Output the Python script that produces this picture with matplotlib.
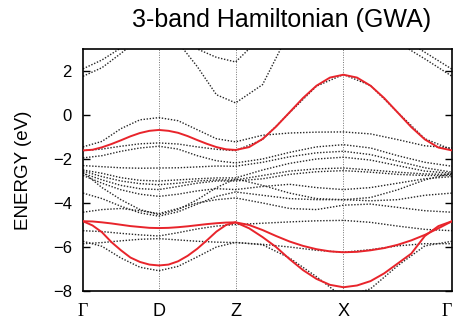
import numpy as np
import matplotlib
matplotlib.use("Agg")
import matplotlib.pyplot as plt

# high-symmetry points along the path
kpt_labels = ["Γ", "D", "Z", "X", "Γ"]
kpt_pos = [0.0, 1.0, 2.01, 3.43, 4.86]

# 3-band model (red), sampled at eighths of each segment
tb_1 = [-1.61, -1.58, -1.47, -1.32, -1.15, -0.97, -0.82, -0.72, -0.68,
        -0.72, -0.81, -0.96, -1.14, -1.31, -1.46, -1.56, -1.59,
        -1.46, -1.09, -0.53, 0.12, 0.77, 1.33, 1.70, 1.83,
        1.70, 1.33, 0.77, 0.11, -0.55, -1.11, -1.48, -1.61]
tb_2 = [-4.83, -4.84, -4.88, -4.93, -4.99, -5.05, -5.09, -5.13, -5.14,
        -5.13, -5.10, -5.06, -5.01, -4.96, -4.92, -4.89, -4.88,
        -5.00, -5.23, -5.50, -5.75, -5.95, -6.10, -6.20, -6.24,
        -6.22, -6.15, -6.05, -5.90, -5.70, -5.45, -5.15, -4.83]
tb_3 = [-4.83, -5.02, -5.33, -5.78, -6.15, -6.48, -6.68, -6.80, -6.84,
        -6.80, -6.65, -6.40, -6.08, -5.70, -5.30, -5.00, -4.88,
        -5.15, -5.55, -6.00, -6.55, -7.05, -7.45, -7.72, -7.83,
        -7.75, -7.55, -7.20, -6.75, -6.30, -5.50, -5.05, -4.83]

# DFT bands (dotted), sampled at quarters of each segment
d01 = [2.10, 2.50, 3.05, 3.70, 4.50, 4.50, 4.50, 4.50, 4.50, 4.50, 4.50, 4.50, 4.50, 4.50, 3.60, 2.85, 2.08]
d02 = [1.76, 2.15, 2.80, 3.50, 4.50, 4.50, 4.50, 4.50, 4.50, 4.50, 4.50, 4.50, 4.50, 4.50, 3.30, 2.55, 1.76]
d03 = [4.50, 4.50, 4.50, 4.50, 4.50, 4.50, 3.00, 2.62, 2.41, 3.60, 4.50, 4.50, 4.50, 4.50, 4.50, 4.50, 4.50]
d04 = [4.50, 4.50, 4.50, 4.50, 4.50, 3.30, 2.20, 0.92, 0.55, 1.38, 3.80, 4.50, 4.50, 4.50, 4.50, 4.50, 4.50]
d05 = [-1.45, -1.20, -0.62, -0.22, -0.12, -0.26, -0.67, -1.08, -1.22, -0.92, -0.82, -0.78, -0.77, -0.86, -1.12, -1.40, -1.50]
d06 = [-1.62, -1.55, -1.42, -1.31, -1.27, -1.32, -1.45, -1.56, -1.62, -1.12, 0.10, 1.31, 1.84, 1.34, 0.12, -1.08, -1.58]
d07 = [-1.95, -1.85, -1.65, -1.50, -1.42, -1.55, -1.85, -2.08, -2.18, -2.00, -1.70, -1.45, -1.35, -1.50, -1.85, -2.15, -2.33]
d08 = [-2.30, -2.35, -2.40, -2.42, -2.41, -2.40, -2.36, -2.32, -2.33, -2.15, -1.90, -1.72, -1.65, -1.80, -2.10, -2.40, -2.60]
d09 = [-2.50, -2.65, -2.85, -2.97, -3.00, -2.95, -2.90, -2.86, -2.86, -2.50, -2.20, -2.00, -1.92, -2.05, -2.30, -2.55, -2.65]
d10 = [-2.55, -2.80, -3.00, -3.12, -3.17, -3.10, -3.00, -2.95, -2.95, -2.75, -2.55, -2.45, -2.41, -2.50, -2.60, -2.68, -2.70]
d11 = [-2.65, -2.95, -3.20, -3.35, -3.39, -3.25, -3.10, -3.00, -3.00, -2.90, -2.70, -2.58, -2.53, -2.60, -2.70, -2.75, -2.75]
d12 = [-2.75, -3.10, -3.40, -3.60, -3.70, -3.60, -3.45, -3.35, -3.39, -3.25, -3.15, -3.30, -3.39, -3.30, -3.10, -2.90, -2.80]
d13 = [-2.60, -3.30, -3.85, -4.30, -4.53, -4.30, -3.85, -3.30, -2.90, -3.20, -3.55, -3.80, -3.85, -3.75, -3.40, -2.95, -2.65]
d14 = [-3.55, -3.80, -4.15, -4.45, -4.60, -4.40, -4.05, -3.70, -3.50, -3.65, -3.80, -3.85, -3.85, -3.90, -3.85, -3.65, -3.55]
d15 = [-4.42, -4.30, -4.25, -4.35, -4.48, -4.25, -4.00, -3.85, -3.77, -4.00, -4.25, -4.30, -4.10, -4.05, -4.20, -4.35, -4.42]
d16 = [-5.26, -5.30, -5.38, -5.45, -5.50, -5.35, -5.18, -5.05, -4.98, -4.92, -4.86, -4.81, -4.79, -4.88, -5.05, -5.20, -5.26]
d17 = [-5.74, -5.97, -6.50, -6.92, -7.08, -6.88, -6.45, -6.00, -5.79, -5.90, -6.50, -7.35, -8.30, -7.90, -6.85, -5.95, -5.74]
d18 = [-5.85, -5.80, -5.72, -5.65, -5.62, -5.68, -5.74, -5.78, -5.80, -5.88, -6.00, -6.15, -6.24, -6.12, -5.95, -5.85, -5.85]

dft_bands = [d01, d02, d03, d04, d05, d06, d07, d08, d09,
             d10, d11, d12, d13, d14, d15, d16, d17, d18]
tb_bands = [tb_1, tb_2, tb_3]


def kgrid(n):
    # n points per segment, shared end points
    parts = [np.linspace(kpt_pos[i], kpt_pos[i + 1], n)[:-1] for i in range(len(kpt_pos) - 1)]
    return np.concatenate(parts + [[kpt_pos[-1]]])


k_dft = kgrid(5)
k_tb = kgrid(9)

plt.rcParams['font.family'] = ['Liberation Sans', 'DejaVu Sans']

fig = plt.figure(figsize=(4.55, 3.21), dpi=100)
ax = fig.add_axes([0.1824, 0.0935, 0.8110, 0.7539])

for x in kpt_pos[1:-1]:
    ax.axvline(x, color='0.45', lw=0.7, ls=(0, (1, 1.5)), zorder=1)

for band in dft_bands:
    ax.plot(k_dft, band, color='0.15', lw=1.0, ls=(0, (1, 1.2)), zorder=2)

for band in tb_bands:
    ax.plot(k_tb, band, color='#e8242b', lw=1.4, zorder=3)

ax.set_xlim(kpt_pos[0], kpt_pos[-1])
ax.set_ylim(-8, 3)
ax.set_yticks([-8, -6, -4, -2, 0, 2])
ax.set_xticks(kpt_pos)
ax.set_xticklabels(kpt_labels)
xlabels = ax.get_xticklabels()
for lbl in xlabels:
    if lbl.get_text() == "Γ":
        lbl.set_family(['Liberation Serif', 'DejaVu Serif'])
# keep the last Γ inside the figure edge
xlabels[-1].set_horizontalalignment('right')
ax.tick_params(axis='y', direction='in', length=5, width=1, right=True,
               labelsize=12, pad=8)
ax.tick_params(axis='x', length=0, labelsize=13, pad=9)
for s in ax.spines.values():
    s.set_linewidth(1.2)

ax.set_ylabel("ENERGY (eV)", fontsize=13.5, labelpad=15)
fig.text(0.618, 0.938, "3-band Hamiltonian (GWA)", ha='center', va='center', fontsize=18)

fig.savefig("out.png", dpi=100)
